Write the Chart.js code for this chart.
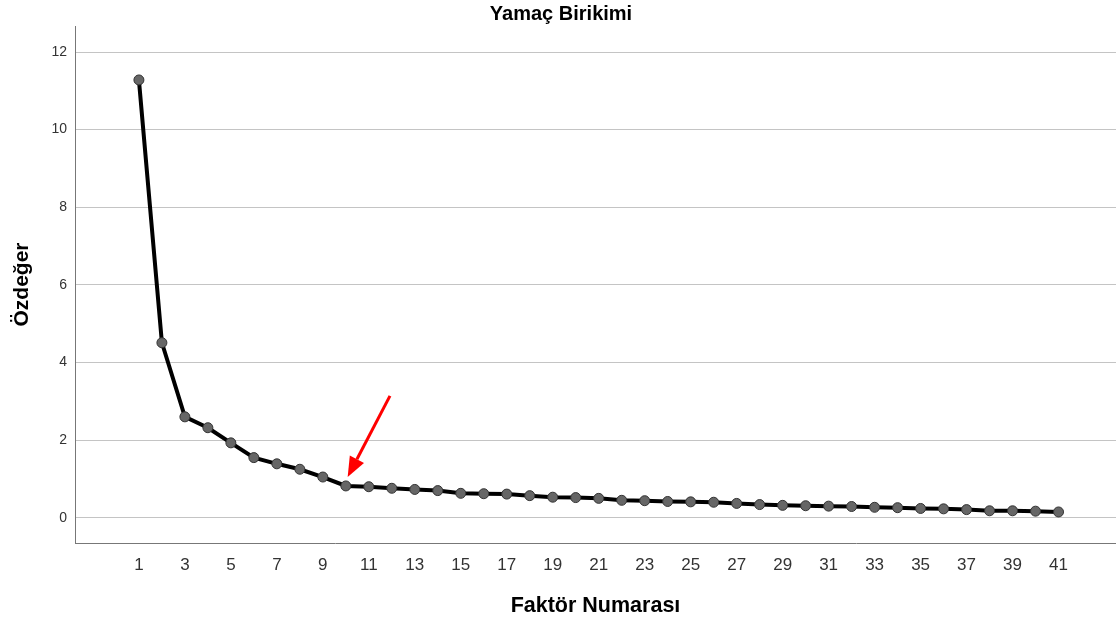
<!DOCTYPE html>
<html>
<head>
<meta charset="utf-8">
<script src="https://cdn.jsdelivr.net/npm/chart.js@4/dist/chart.umd.min.js"></script>
<style>
  html, body { margin: 0; padding: 0; background: #fff; }
  #wrap { width: 1116px; height: 623px; overflow: hidden; }
</style>
</head>
<body>
<div id="wrap"><canvas id="myChart" width="1122" height="623"></canvas></div>
<script>
var factors = [1, 2, 3, 4, 5, 6, 7, 8, 9, 10, 11, 12, 13, 14, 15, 16, 17, 18, 19, 20,
  21, 22, 23, 24, 25, 26, 27, 28, 29, 30, 31, 32, 33, 34, 35, 36, 37, 38, 39, 40, 41];
var eigenvalues = [11.28, 4.51, 2.60, 2.32, 1.93, 1.55, 1.39, 1.25, 1.05, 0.82,
  0.80, 0.76, 0.73, 0.70, 0.63, 0.62, 0.61, 0.57, 0.53, 0.52,
  0.50, 0.45, 0.44, 0.42, 0.41, 0.40, 0.37, 0.34, 0.32, 0.31,
  0.30, 0.29, 0.27, 0.26, 0.24, 0.23, 0.21, 0.18, 0.18, 0.17, 0.15];
var xTicks = [1, 3, 5, 7, 9, 11, 13, 15, 17, 19, 21, 23, 25, 27, 29, 31, 33, 35, 37, 39, 41];
var yTicks = [0, 2, 4, 6, 8, 10, 12];
// red arrow (data units): tail -> tip
var arrowFrom = [11.92, 3.14];
var arrowTo = [10.08, 1.05];

var points = factors.map(function (f, i) { return { x: f, y: eigenvalues[i] }; });

var arrowPlugin = {
  id: 'arrow',
  afterDatasetsDraw: function (chart) {
    var c = chart.ctx, xs = chart.scales.x, ys = chart.scales.y;
    var x1 = xs.getPixelForValue(arrowFrom[0]), y1 = ys.getPixelForValue(arrowFrom[1]);
    var x2 = xs.getPixelForValue(arrowTo[0]), y2 = ys.getPixelForValue(arrowTo[1]);
    var a = Math.atan2(y2 - y1, x2 - x1);
    var head = 20, w = 8;
    var bx = x2 - head * Math.cos(a), by = y2 - head * Math.sin(a);
    c.save();
    c.strokeStyle = '#ff0000';
    c.fillStyle = '#ff0000';
    c.lineWidth = 3;
    c.beginPath();
    c.moveTo(x1, y1);
    c.lineTo(bx, by);
    c.stroke();
    c.beginPath();
    c.moveTo(x2, y2);
    c.lineTo(bx + w * Math.sin(a), by - w * Math.cos(a));
    c.lineTo(bx - w * Math.sin(a), by + w * Math.cos(a));
    c.closePath();
    c.fill();
    c.restore();
  }
};

var ctx = document.getElementById('myChart').getContext('2d');
var myChart = new Chart(ctx, {
  type: 'line',
  data: {
    datasets: [{
      label: 'Özdeğer',
      data: points,
      borderColor: '#000',
      borderWidth: 4,
      pointRadius: 5,
      pointBackgroundColor: '#666',
      pointBorderColor: '#333',
      pointBorderWidth: 1,
      tension: 0
    }]
  },
  options: {
    responsive: false,
    animation: false,
    layout: { padding: 0 },
    font: { family: '"Liberation Sans", Arial, sans-serif' },
    plugins: {
      legend: { display: false },
      tooltip: { enabled: false },
      title: {
        display: true,
        text: 'Yamaç Birikimi',
        color: '#000',
        font: { size: 20, weight: 'bold', family: '"Liberation Sans", Arial, sans-serif' },
        padding: { top: 2, bottom: 0 }
      }
    },
    scales: {
      x: {
        type: 'linear',
        min: -1.78,
        max: 43.5,
        afterBuildTicks: function (s) { s.ticks = xTicks.map(function (v) { return { value: v }; }); },
        afterFit: function (s) { s.height = 80; s.paddingLeft = 0; s.paddingRight = 0; },
        grid: { display: false, drawTicks: false },
        border: { display: true, color: '#777', width: 1 },
        ticks: { color: '#333', padding: 12, font: { size: 17 } },
        title: {
          display: true,
          text: 'Faktör Numarası',
          color: '#000',
          font: { size: 21.5, weight: 'bold' },
          padding: { top: 18, bottom: 4 }
        }
      },
      y: {
        min: -0.65,
        max: 12.67,
        afterBuildTicks: function (s) { s.ticks = yTicks.map(function (v) { return { value: v }; }); },
        afterFit: function (s) { s.width = 75; s.paddingTop = 0; s.paddingBottom = 0; },
        grid: { color: '#c4c4c4', lineWidth: 1, drawTicks: false },
        border: { display: true, color: '#777', width: 1 },
        ticks: { color: '#333', padding: 8, font: { size: 14 } },
        title: {
          display: true,
          text: 'Özdeğer',
          color: '#000',
          font: { size: 21, weight: 'bold' },
          padding: { top: 10, bottom: 15 }
        }
      }
    }
  },
  plugins: [arrowPlugin]
});
</script>
</body>
</html>
